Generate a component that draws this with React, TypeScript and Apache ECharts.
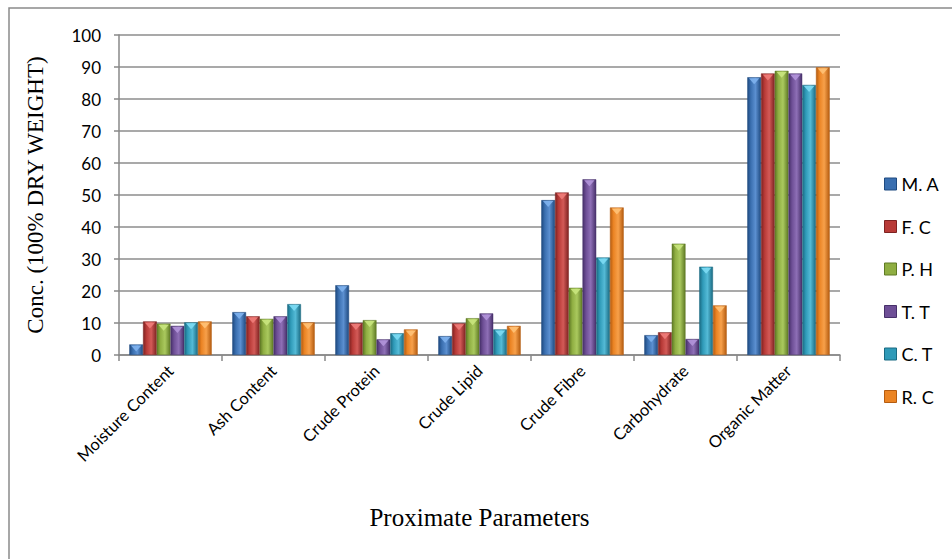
import React, { useEffect, useRef } from "react";
import * as echarts from "echarts";

const categories = [
  "Moisture Content",
  "Ash Content",
  "Crude Protein",
  "Crude Lipid",
  "Crude Fibre",
  "Carbohydrate",
  "Organic Matter",
];
const seriesNames = ["M. A", "F. C", "P. H", "T. T", "C. T", "R. C"];
const maValues = [3.3, 13.4, 21.8, 5.9, 48.4, 6.2, 86.8];
const fcValues = [10.5, 12.1, 10.0, 9.9, 50.8, 7.1, 88.0];
const phValues = [9.8, 11.3, 10.9, 11.5, 21.0, 34.8, 88.8];
const ttValues = [9.1, 12.1, 4.9, 13.0, 54.9, 5.0, 88.0];
const ctValues = [10.2, 15.9, 6.8, 8.0, 30.5, 27.6, 84.4];
const rcValues = [10.5, 10.2, 8.0, 9.1, 46.1, 15.5, 89.9];
const yTicks = { min: 0, max: 100, interval: 10 };

const palette = [
  { mid: "#3a6fb0", dark: "#1f4a80", light: "#5b8fd0", cap: "#7fb2ee" },
  { mid: "#b83a37", dark: "#7e2221", light: "#d35a57", cap: "#f07d7a" },
  { mid: "#8fae42", dark: "#5f7a25", light: "#aac95e", cap: "#c9e67e" },
  { mid: "#6e4f96", dark: "#47306a", light: "#8e6fb6", cap: "#b395da" },
  { mid: "#2f9ab8", dark: "#1a6a82", light: "#54bad6", cap: "#7ddcf4" },
  { mid: "#eb8424", dark: "#b55c10", light: "#f7a04a", cap: "#ffc277" },
];

export default function App() {
  const ref = useRef<HTMLDivElement>(null);
  useEffect(() => {
    document.body.style.margin = "0";
    if (!ref.current) return;
    const chart = echarts.init(ref.current, null, { renderer: "svg" });
    const allValues = [maValues, fcValues, phValues, ttValues, ctValues, rcValues];
    const bars = allValues.map((vals, i) => ({
      name: seriesNames[i],
      type: "bar" as const,
      data: vals,
      barGap: "0%",
      barCategoryGap: "20%",
      z: 2,
      itemStyle: {
        color: new echarts.graphic.LinearGradient(0, 0, 1, 0, [
          { offset: 0, color: palette[i].dark },
          { offset: 0.25, color: palette[i].mid },
          { offset: 0.6, color: palette[i].light },
          { offset: 1, color: palette[i].dark },
        ]),
        borderColor: palette[i].dark,
        borderWidth: 0.5,
      },
    }));
    const caps = allValues.map((vals, i) => ({
      name: "cap-" + seriesNames[i],
      type: "pictorialBar" as const,
      data: vals,
      barGap: "0%",
      barCategoryGap: "20%",
      symbol: "triangle",
      symbolRotate: 180,
      symbolPosition: "end",
      symbolSize: ["75%", 6],
      symbolOffset: [0, 1],
      z: 4,
      silent: true,
      itemStyle: { color: palette[i].cap, opacity: 0.9 },
    }));
    chart.setOption({
      animation: false,
      backgroundColor: "#ffffff",
      grid: { left: 119, top: 35, right: 112, bottom: 204, containLabel: false },
      legend: {
        orient: "vertical",
        left: 879,
        top: 170,
        itemWidth: 12,
        itemHeight: 12,
        itemGap: 24.5,
        icon: "rect",
        data: seriesNames.map((n, i) => ({
          name: n,
          itemStyle: { color: palette[i].mid, borderColor: palette[i].dark, borderWidth: 1 },
        })),
        textStyle: { fontFamily: "Lato", fontSize: 18, color: "#000" },
      },
      xAxis: {
        type: "category",
        data: categories,
        axisLine: { lineStyle: { color: "#888", width: 1.5 } },
        axisTick: { show: true, length: 6, lineStyle: { color: "#888", width: 1.5 } },
        axisLabel: {
          rotate: 45,
          interval: 0,
          fontFamily: "Lato",
          fontSize: 16.5,
          color: "#000",
          margin: 13,
        },
        name: "Proximate Parameters",
        nameLocation: "middle",
        nameGap: 150,
        nameTextStyle: { fontFamily: "Liberation Serif", fontSize: 25, color: "#000" },
      },
      yAxis: {
        type: "value",
        min: yTicks.min,
        max: yTicks.max,
        interval: yTicks.interval,
        axisLine: { show: true, lineStyle: { color: "#888", width: 1.5 } },
        axisTick: { show: true, length: 5, lineStyle: { color: "#888", width: 1.5 } },
        splitLine: { show: true, lineStyle: { color: "#8c8c8c", width: 1.5 } },
        axisLabel: { fontFamily: "Lato", fontSize: 17, color: "#000", margin: 18 },
        name: "Conc. (100% DRY WEIGHT)",
        nameLocation: "middle",
        nameGap: 72,
        nameRotate: 90,
        nameTextStyle: { fontFamily: "Liberation Serif", fontSize: 23, color: "#000" },
      },
      series: [...bars, ...caps],
      graphic: [
        {
          type: "polyline",
          shape: { points: [[9, 559], [9, 8], [952, 8]] },
          style: { stroke: "#8a8a8a", lineWidth: 1.5, fill: null },
        },
      ],
    });
    return () => chart.dispose();
  }, []);
  return <div ref={ref} style={{ width: 952, height: 559 }} />;
}
